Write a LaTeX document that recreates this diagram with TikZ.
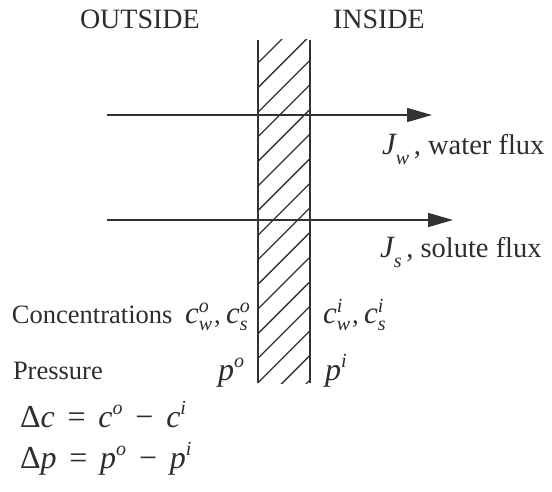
\documentclass[tikz,border=0pt]{standalone}
\usepackage{fontspec}
\setmainfont{Liberation Serif}
\usetikzlibrary{arrows.meta}
\definecolor{ink}{HTML}{333333}
\definecolor{txt}{HTML}{2E2E2E}
\newcommand{\SmallIt}[1]{{\fontsize{20}{20}\selectfont\itshape #1}}
\newcommand{\BigIt}[1]{{\fontsize{31}{31}\selectfont\itshape #1}}
\newcommand{\SbSp}[3]{\BigIt{#1}\rlap{\raisebox{0.4em}{\SmallIt{#3}}}\raisebox{-0.3em}{\SmallIt{#2}}}
\newcommand{\Sp}[2]{\textit{#1}\raisebox{0.4em}{\SmallIt{#2}}}
\newcommand{\Sb}[2]{\BigIt{#1}\raisebox{-0.32em}{\SmallIt{#2}}}
\newcommand{\OpSp}{\hspace{0.4em}}
\begin{document}
\begin{tikzpicture}[x=1pt,y=-1pt,
  lbl/.style={inner sep=0pt, outer sep=0pt, anchor=base west, text=txt, font=\fontsize{28.5}{32}\selectfont},
  small lbl/.style={lbl, font=\fontsize{26.5}{32}\selectfont},
  eqlbl/.style={lbl, font=\fontsize{32}{36}\selectfont},
  wall/.style={draw=ink, line width=1.5pt},
  hatchline/.style={draw=ink, line width=1.3pt},
  flux/.style={draw=ink, line width=1.5pt, -{Triangle[length=25pt,width=14pt]}}]
\useasboundingbox (0,0) rectangle (552,492);
\fill[white] (0,0) rectangle (552,492);

% membrane
\node[inner sep=0pt, outer sep=0pt, minimum width=52pt, minimum height=343pt, anchor=north west] (mem) at (258,40) {};
\begin{scope}
  \clip (mem.north west) rectangle (mem.south east);
  \foreach \k in {-2,...,15} {
    \draw[hatchline] (258,{63+24.6*\k}) -- (310,{11+24.6*\k});
  }
\end{scope}
\draw[wall] (mem.north west) -- (mem.south west);
\draw[wall] (mem.north east) -- (mem.south east);

% flux arrows
\coordinate (w1) at (107,115);
\coordinate (e1) at (432,115);
\coordinate (w2) at (107,220);
\coordinate (e2) at (453,220);
\draw[flux] (w1) -- (e1);
\draw[flux] (w2) -- (e2);

% labels
\node[lbl, font=\fontsize{28}{32}\selectfont] (outside) at (80,29) {OUTSIDE};
\node[lbl, font=\fontsize{28}{32}\selectfont] (inside) at (333,29) {INSIDE};
\node[lbl] (jw) at (382,155) {\Sb{J}{w}\,, water flux};
\node[lbl] (js) at (380,258) {\Sb{J}{s}\,, solute flux};
\node[small lbl] (conc) at (12,323) {Concentrations};
\node[small lbl] (co) at (185,323) {\SbSp{c}{w}{o}\hspace{0.08em},\hspace{0.2em}\SbSp{c}{s}{o}};
\node[small lbl] (ci) at (323,323) {\SbSp{c}{w}{i}\hspace{0.08em},\hspace{0.2em}\SbSp{c}{s}{i}};
\node[small lbl] (pres) at (13,379) {Pressure};
\node[eqlbl] (po) at (218,380) {\Sp{p}{o}};
\node[eqlbl] (pi) at (325,380) {\Sp{p}{i}};
\node[eqlbl] (dc) at (20,427) {Δ\textit{c}\OpSp=\OpSp\Sp{c}{o}\OpSp−\OpSp\Sp{c}{i}};
\node[eqlbl] (dp) at (20,468) {Δ\textit{p}\OpSp=\OpSp\Sp{p}{o}\OpSp−\OpSp\Sp{p}{i}};
\end{tikzpicture}
\end{document}
